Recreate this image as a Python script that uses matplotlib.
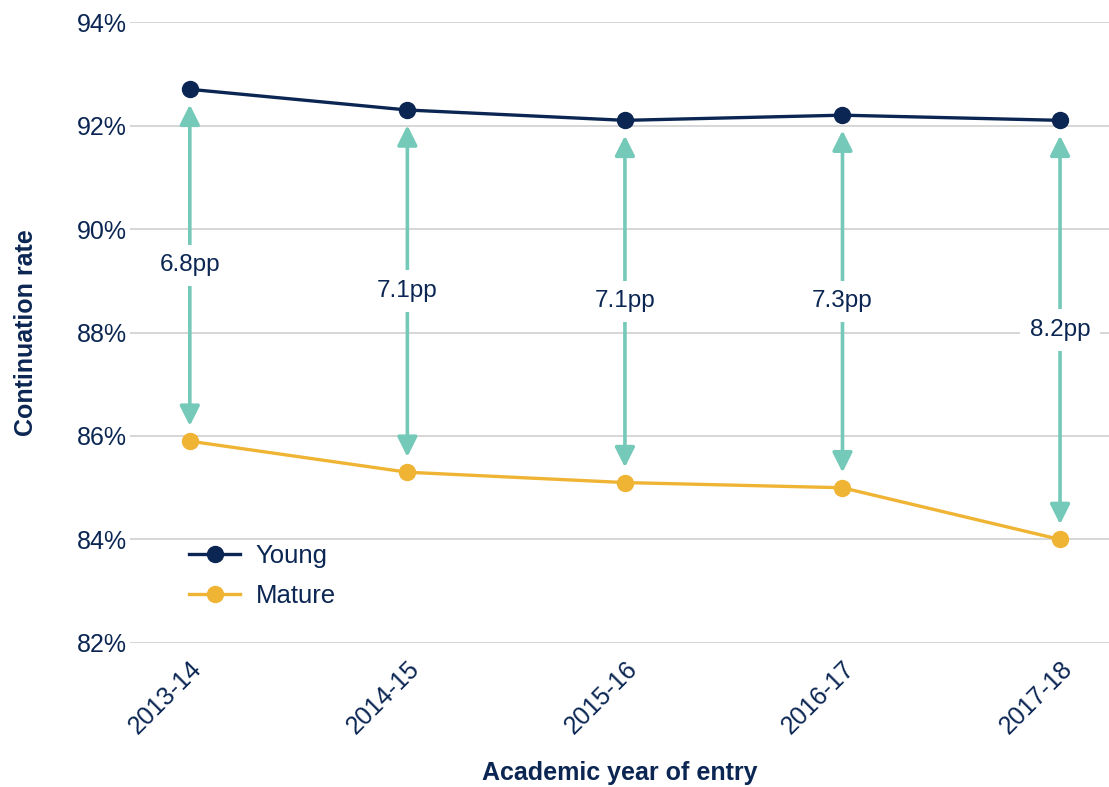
import matplotlib.pyplot as plt
from matplotlib.ticker import FuncFormatter

years = ['2013-14', '2014-15', '2015-16', '2016-17', '2017-18']
young = [92.7, 92.3, 92.1, 92.2, 92.1]
mature = [85.9, 85.3, 85.1, 85.0, 84.0]
gap_labels = ['6.8pp', '7.1pp', '7.1pp', '7.3pp', '8.2pp']

navy = '#0b2653'
gold = '#f0b434'
teal = '#74c9b8'

plt.rcParams['font.family'] = ['Liberation Sans', 'DejaVu Sans']

fig = plt.figure(figsize=(11.09, 7.87), dpi=100)
ax = fig.add_axes([0.117, 0.183, 0.883, 0.789])

x = list(range(len(years)))

ax.plot(x, young, color=navy, lw=2.4, marker='o', ms=11.5, label='Young', zorder=4)
ax.plot(x, mature, color=gold, lw=2.4, marker='o', ms=11.5, label='Mature', zorder=4)

# double-headed arrows showing the gap, label sits in the middle
for i in x:
    ax.annotate('', xy=(i, mature[i]), xytext=(i, young[i]),
                arrowprops=dict(arrowstyle='<|-|>,head_length=1.2,head_width=0.6',
                                color=teal, lw=2.6, shrinkA=11, shrinkB=11),
                zorder=3)
    mid = (young[i] + mature[i]) / 2
    ax.text(i, mid, gap_labels[i], ha='center', va='center', fontsize=17.5,
            color=navy, zorder=5,
            bbox=dict(facecolor='white', edgecolor='none', pad=7))

ax.set_xlim(-0.276, 4.225)
ax.set_ylim(82, 94)
ax.set_yticks([82, 84, 86, 88, 90, 92, 94])
ax.yaxis.set_major_formatter(FuncFormatter(lambda v, p: f'{v:.0f}%'))
ax.set_xticks(x)
ax.set_xticklabels(years, rotation=45, ha='right', rotation_mode='anchor')

ax.grid(axis='y', color='#d3d3d3', lw=1.3)
ax.set_axisbelow(True)
for s in ax.spines.values():
    s.set_visible(False)
ax.tick_params(axis='both', length=0, labelsize=18, labelcolor=navy)
ax.tick_params(axis='y', pad=2)
ax.tick_params(axis='x', pad=10)

ax.set_ylabel('Continuation rate', fontsize=18, fontweight='bold', color=navy, labelpad=28)
ax.set_xlabel('Academic year of entry', fontsize=18, fontweight='bold', color=navy, labelpad=16)

leg = ax.legend(loc='upper left', bbox_to_anchor=(0.037, 0.196), frameon=False,
                fontsize=18.5, handlelength=2.0, labelspacing=0.6, handletextpad=0.6)
for t in leg.get_texts():
    t.set_color(navy)

fig.savefig('out.png', dpi=100)
